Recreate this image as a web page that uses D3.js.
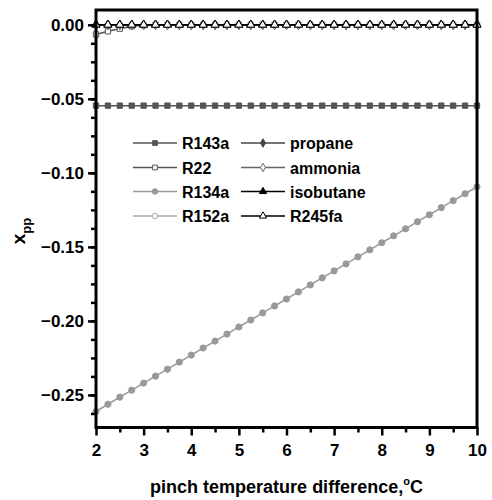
<!DOCTYPE html>
<html>
<head>
<meta charset="utf-8">
<script src="https://cdn.jsdelivr.net/npm/d3@7"></script>
<style>
  body { margin: 0; background: #fff; }
  text { font-family: "Liberation Sans", Arial, sans-serif; font-weight: bold; fill: #000; }
</style>
</head>
<body>
<svg id="svg"></svg>
<script>
// pinch temperature difference, step 0.25
const dT = [2, 2.25, 2.5, 2.75, 3, 3.25, 3.5, 3.75, 4, 4.25, 4.5, 4.75, 5, 5.25, 5.5, 5.75,
            6, 6.25, 6.5, 6.75, 7, 7.25, 7.5, 7.75, 8, 8.25, 8.5, 8.75, 9, 9.25, 9.5, 9.75, 10];

const r143a = [-0.0546, -0.0546, -0.0546, -0.0546, -0.0546, -0.0546, -0.0546, -0.0546, -0.0546,
               -0.0546, -0.0546, -0.0546, -0.0546, -0.0546, -0.0546, -0.0546, -0.0546, -0.0546,
               -0.0546, -0.0546, -0.0546, -0.0546, -0.0546, -0.0546, -0.0546, -0.0546, -0.0546,
               -0.0546, -0.0546, -0.0546, -0.0546, -0.0546, -0.0546];
const r22 = [-0.0065, -0.0044, -0.0026, -0.0010, -0.0003, 0, 0, 0, 0, 0, 0, 0, 0, 0, 0, 0,
             0, 0, 0, 0, 0, 0, 0, 0, 0, 0, 0, 0, 0, 0, 0, 0, 0];
const r134a = [-0.2612, -0.2563, -0.2515, -0.2468, -0.2420, -0.2373, -0.2326, -0.2278, -0.2231,
               -0.2183, -0.2136, -0.2089, -0.2041, -0.1994, -0.1946, -0.1899, -0.1852, -0.1804,
               -0.1757, -0.1709, -0.1662, -0.1615, -0.1567, -0.1520, -0.1472, -0.1425, -0.1378,
               -0.1330, -0.1283, -0.1235, -0.1188, -0.1141, -0.1094];
const zeros = [0, 0, 0, 0, 0, 0, 0, 0, 0, 0, 0, 0, 0, 0, 0, 0, 0, 0, 0, 0, 0, 0, 0, 0, 0, 0,
               0, 0, 0, 0, 0, 0, 0];
const r152a = zeros, propane = zeros, ammonia = zeros, isobutane = zeros, r245fa = zeros;

const xTicks = [2, 3, 4, 5, 6, 7, 8, 9, 10];
const yTicks = [0, -0.05, -0.10, -0.15, -0.20, -0.25];

// name, values, line colour, marker shape, marker fill
const series = [
  {name: "R143a",     values: r143a,     color: "#555", shape: "square",   fill: "#555"},
  {name: "R22",       values: r22,       color: "#555", shape: "square",   fill: "#fff"},
  {name: "R134a",     values: r134a,     color: "#999", shape: "circle",   fill: "#999"},
  {name: "R152a",     values: r152a,     color: "#aaa", shape: "circle",   fill: "#fff"},
  {name: "propane",   values: propane,   color: "#444", shape: "diamond",  fill: "#444"},
  {name: "ammonia",   values: ammonia,   color: "#666", shape: "diamond",  fill: "#fff"},
  {name: "isobutane", values: isobutane, color: "#000", shape: "triangle", fill: "#000"},
  {name: "R245fa",    values: r245fa,    color: "#000", shape: "triangle", fill: "#fff"}
];

const W = 492, H = 500;
const m = {left: 96, right: 15, top: 10, bottom: 72.5};

const svg = d3.select("#svg").attr("width", W).attr("height", H);

const x = d3.scaleLinear().domain([2, 10]).range([m.left, W - m.right]);
const y = d3.scaleLinear().domain([-0.272, 0.01]).range([H - m.bottom, m.top]);

const symbols = {
  square: d3.symbolSquare, circle: d3.symbolCircle,
  diamond: d3.symbolDiamond, triangle: d3.symbolTriangle
};
const sizes = {square: 28, circle: 30, diamond: 26, triangle: 28};

function marker(g, s, cx, cy, scale) {
  g.append("path")
    .attr("d", d3.symbol().type(symbols[s.shape]).size(sizes[s.shape] * (scale || 1))())
    .attr("transform", `translate(${cx},${cy})`)
    .attr("fill", s.fill)
    .attr("stroke", s.color)
    .attr("stroke-width", 1);
}

// series lines + markers
const line = d3.line().x((d, i) => x(dT[i])).y(d => y(d));
const plot = svg.append("g");
series.forEach(s => {
  plot.append("path")
    .datum(s.values)
    .attr("d", line)
    .attr("fill", "none")
    .attr("stroke", s.color)
    .attr("stroke-width", 1.5);
  s.values.forEach((v, i) => marker(plot, s, x(dT[i]), y(v)));
});

// axes: major + minor ticks
const xAxis = svg.append("g").attr("transform", `translate(0,${H - m.bottom})`);
xAxis.call(d3.axisBottom(x).tickValues(d3.range(2.5, 10, 1)).tickSize(5).tickFormat(""));
xAxis.call(g => g.append("g").call(d3.axisBottom(x).tickValues(xTicks).tickSize(8).tickPadding(8)));

const yAxis = svg.append("g").attr("transform", `translate(${m.left},0)`);
yAxis.call(d3.axisLeft(y).tickValues(d3.range(-0.2625, 0.005, 0.0125)).tickSize(5).tickFormat(""));
yAxis.call(g => g.append("g").call(d3.axisLeft(y).tickValues(yTicks).tickSize(8).tickPadding(4)
  .tickFormat(d3.format(".2f"))));

svg.selectAll(".domain").remove();
svg.selectAll(".tick line").attr("stroke", "#000").attr("stroke-width", 2.5);
svg.selectAll(".tick text").style("font-size", "17px").attr("fill", "#000");

// frame
svg.append("rect")
  .attr("x", m.left).attr("y", m.top)
  .attr("width", W - m.right - m.left).attr("height", H - m.bottom - m.top)
  .attr("fill", "none").attr("stroke", "#000").attr("stroke-width", 3);

// legend
const legRows = [143, 167.5, 191.5, 216];
const legCols = [133, 241];
series.forEach((s, i) => {
  const col = Math.floor(i / 4), row = i % 4;
  const lx = legCols[col], ly = legRows[row];
  const g = svg.append("g");
  g.append("line")
    .attr("x1", lx).attr("x2", lx + 44).attr("y1", ly).attr("y2", ly)
    .attr("stroke", s.color).attr("stroke-width", 1.5);
  marker(g, s, lx + 22, ly, 0.8);
  g.append("text")
    .attr("x", lx + 49).attr("y", ly + 6)
    .style("font-size", "16px")
    .text(s.name);
});

// axis titles
const xt = svg.append("text")
  .attr("x", (m.left + W - m.right) / 2).attr("y", 493)
  .attr("text-anchor", "middle")
  .style("font-size", "18px");
xt.append("tspan").text("pinch temperature difference,");
xt.append("tspan").attr("dy", -8).style("font-size", "11px").text("o");
xt.append("tspan").attr("dy", 8).text("C");

const yt = svg.append("text")
  .attr("transform", "translate(25,231) rotate(-90)")
  .attr("text-anchor", "middle")
  .style("font-size", "19px");
yt.append("tspan").text("x");
yt.append("tspan").attr("dy", 6).style("font-size", "13px").text("pp");
</script>
</body>
</html>
